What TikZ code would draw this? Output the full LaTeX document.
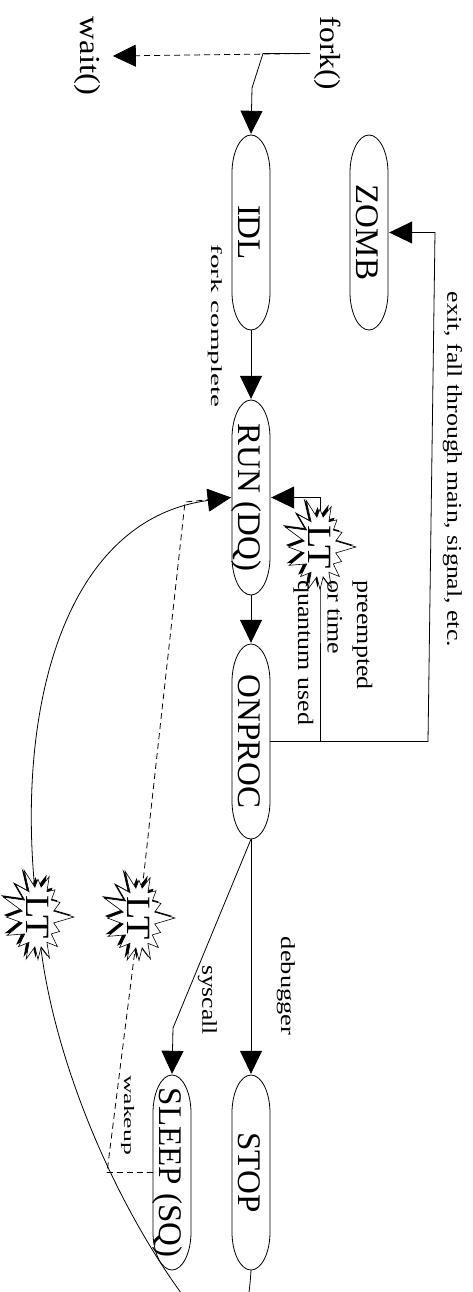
\documentclass[tikz,border=0pt]{standalone}
\usepackage{fontspec}
\setmainfont{Liberation Serif}
\usepackage{graphicx}
\usetikzlibrary{arrows.meta,shapes.symbols,shadows,backgrounds}

% horizontally stretched text
\newcommand{\sx}[2]{\scalebox{#1}[1]{#2}}

% a state: an elongated oval with half-ellipse caps, plus its rotated title
\newcommand{\procstate}[4]{% name, x, y, title
  \node[statebox] (#1) at (#2,#3) {};
  \draw[ovalline] ([shift={(-19pt,59.5pt)}]#1.center) -- ++(0pt,-119pt)
    arc[start angle=180, end angle=360, x radius=19pt, y radius=38pt]
    -- ++(0pt,119pt)
    arc[start angle=0, end angle=180, x radius=19pt, y radius=38pt] -- cycle;
  \node[statetext] (#1t) at ([xshift=-13pt]#1.center) {#4};
}

\begin{document}
\begin{tikzpicture}[x=1pt,y=-1pt,
  statebox/.style={rectangle, minimum width=38pt, minimum height=195pt, inner sep=0pt},
  ovalline/.style={draw, fill=white, line width=0.8pt},
  statetext/.style={rotate=-90, anchor=base, inner sep=0pt,
    font=\fontsize{33}{36}\selectfont},
  calltext/.style={rotate=-90, inner sep=4pt, font=\fontsize{29}{32}\selectfont},
  lbl/.style={rotate=-90, inner sep=0pt},
  burst/.style={starburst, draw, fill=white, line width=0.6pt, rotate=-90,
    starburst points=16, starburst point height=22pt, random starburst=7,
    minimum width=76pt, minimum height=76pt, inner sep=0pt,
    font=\fontsize{34}{36}\selectfont,
    drop shadow={fill=black, opacity=1, shadow xshift=-2.5pt, shadow yshift=2pt}},
  link/.style={line width=0.8pt},
  arr/.style={link, -{Triangle[length=23pt,width=22pt]}},
  dashedlink/.style={dash pattern=on 6pt off 4pt}
]
\useasboundingbox (0,0) rectangle (473,1292);

% process states
\procstate{idl}{251}{232.5}{IDL}
\procstate{zomb}{369}{232.5}{ZOMB}
\procstate{run}{251}{497.5}{RUN (DQ)}
\procstate{onproc}{251}{741.5}{ONPROC}
\procstate{stop}{251}{1172.5}{STOP}
\procstate{sleep}{172}{1172.5}{SLEEP (SQ)}

% system calls
\node[calltext] (fork) at (327.5,53.5) {\sx{1.08}{fork()}};
\node[calltext] (wait) at (87.5,56)    {\sx{1.13}{wait()}};

% LT bursts
\node[burst] (ltA) at (320,547) {\sx{1.12}{LT}};
\node[burst] (ltB) at (139,918) {\sx{1.12}{LT}};
\node[burst] (ltC) at (38,917)  {\sx{1.12}{LT}};

% transition labels
\node[lbl, font=\fontsize{15.5}{18}\selectfont] (lcomplete) at (215,326) {\sx{1.88}{fork complete}};
\node[lbl, font=\fontsize{21}{24}\selectfont] (lexit) at (452.5,469.5) {\sx{1.23}{exit, fall through main, signal, etc.}};
\node[lbl, font=\fontsize{20}{23}\selectfont] (ldebug) at (286,986) {\sx{1.32}{debugger}};
\node[lbl, font=\fontsize{21}{24}\selectfont] (lsys) at (207.5,1000) {\sx{1.22}{syscall}};
\node[lbl, font=\fontsize{14.5}{17}\selectfont] (lwake) at (127.5,1115) {\sx{1.77}{wakeup}};
\node[lbl, anchor=north west, align=left, font=\fontsize{22}{29.5}\selectfont]
  (lpre) at (372.5,580) {\sx{1.18}{preempted}\\\sx{1.18}{or time}\\\sx{1.18}{quantum used}};

% transitions
\begin{scope}[on background layer]
  \draw[arr] (fork.south) -- (263,53.5) -- (252,88) -- ([yshift=1pt]idl.north);
  \draw[arr, dashedlink] (fork.south) -- ([xshift=8pt]wait.north);
  \draw[arr] (idl.south) -- ([yshift=1pt]run.north);
  \draw[arr] (run.south) -- ([yshift=1pt]onproc.north);
  \draw[arr] (onproc.south) -- ([yshift=1pt]stop.north);
  \draw[arr] (onproc.south) -- (173,1028) -- ([yshift=1pt]sleep.north);
  \draw[arr] (onproc.east) -- (428,741.5) -- (435,232.5) -- ([xshift=1pt]zomb.east);
  \draw[arr] (onproc.east) -| (ltA.center) |- ([xshift=1pt]run.east);
  \draw[link, dashedlink] (sleep.west) -- (107,1172.5) -- (ltB.center);
  \draw[arr, dashedlink] (ltB.center) -- (185,502) -- ([xshift=-1pt]run.west);
  \begin{scope}
    \clip (0,0) rectangle (473,1292);
    \draw[link] (stop.south) .. controls (246,1360) and (215,1340) .. (190,1305)
      .. controls (110,1200) and (45,1040) .. (ltC.center);
  \end{scope}
  \draw[arr] (ltC.center) .. controls (12,720) and (60,520) .. ([xshift=-1pt]run.west);
\end{scope}
\end{tikzpicture}
\end{document}
